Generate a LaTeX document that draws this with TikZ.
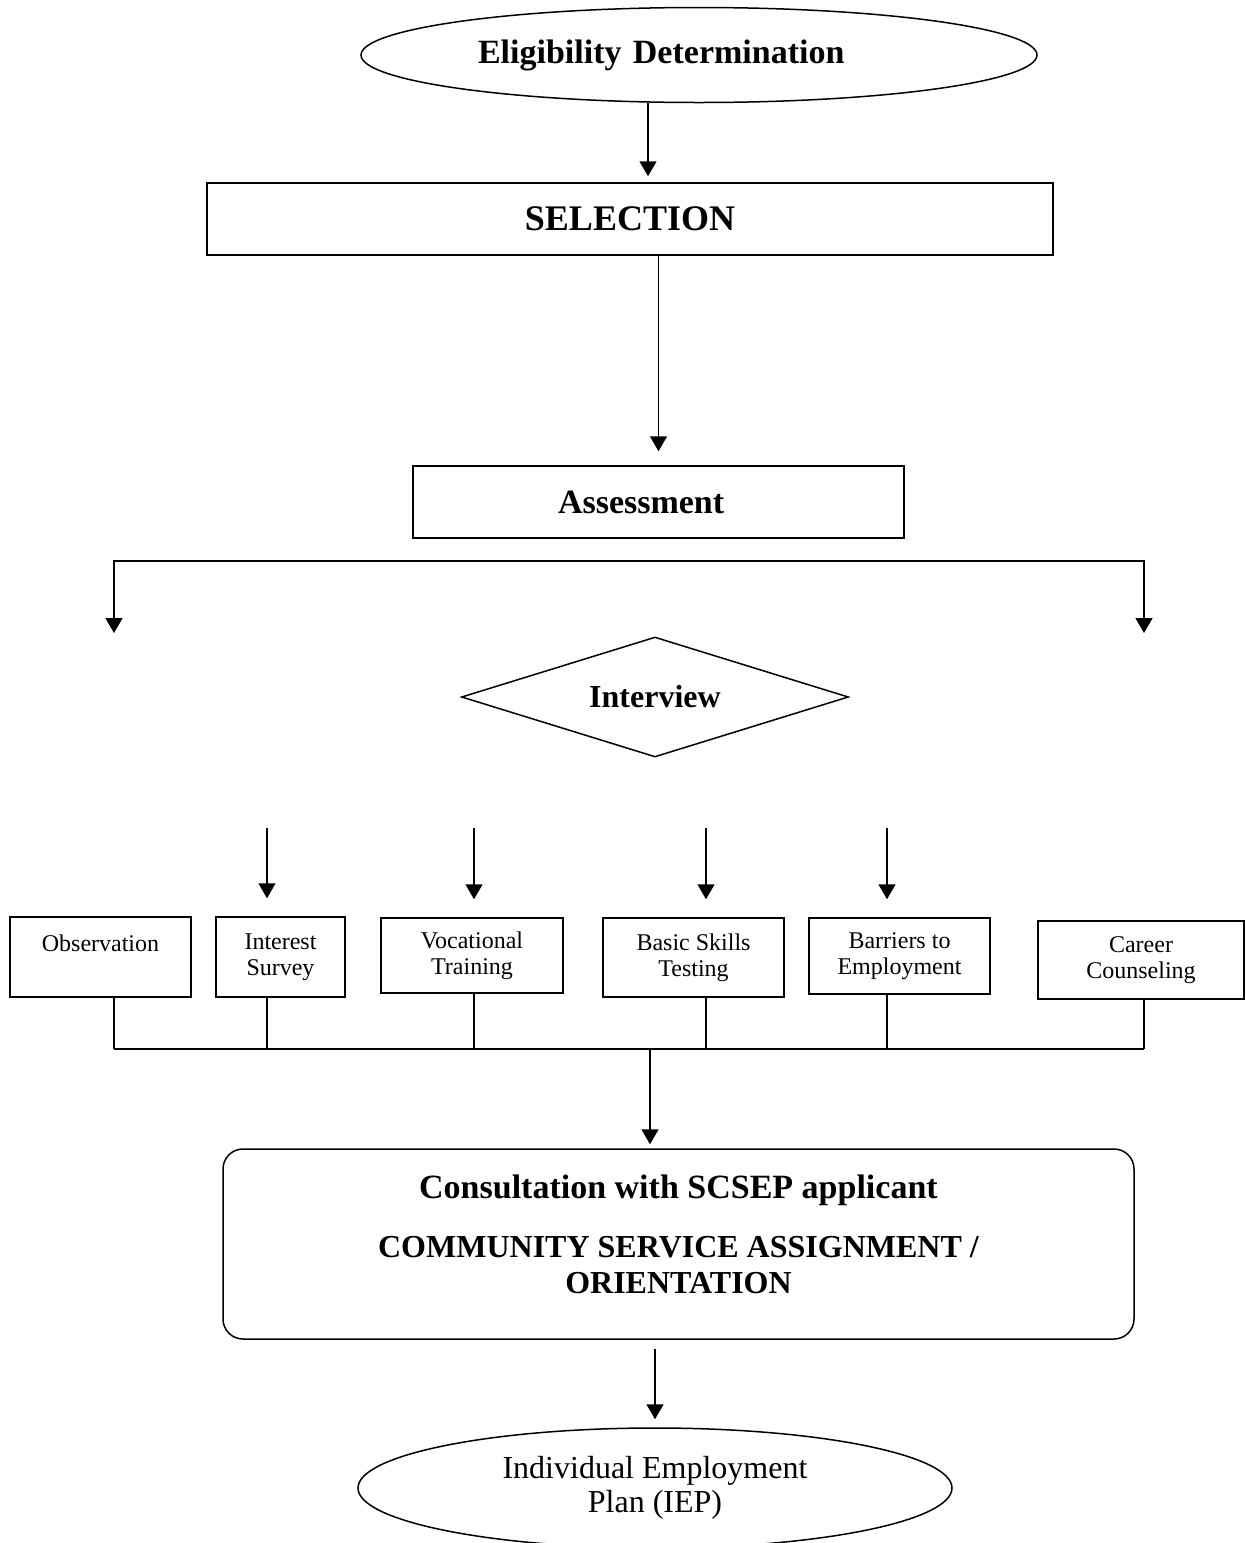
\documentclass[tikz,border=0pt]{standalone}
\usepackage{fontspec}
\setmainfont{Liberation Serif}
\usetikzlibrary{shapes.geometric,arrows.meta}

\begin{document}
\begin{tikzpicture}[x=0.5pt,y=-0.5pt,line width=0.75pt,
  arr/.style={-{Triangle[width=8.5pt,length=7.5pt]}},
  arrs/.style={{Triangle[width=8.5pt,length=7.5pt]}-{Triangle[width=8.5pt,length=7.5pt]}},
  box/.style={draw,rectangle,inner sep=0pt,align=center},
  smallbox/.style={box,font=\fontsize{12}{13}\selectfont,minimum height=40pt},
  big/.style={font=\bfseries\fontsize{17}{20}\selectfont}]

  \useasboundingbox (0,0) rectangle (1246,1543);

  \newcommand\busY{1049}
  \newcommand\inY{828}
  \newcommand\brY{561}

  %% main column
  \node[draw,ellipse,minimum width=338pt,minimum height=47.5pt,inner sep=2pt,
        text width=221pt,align=left,big] (elig) at (699,55) {Eligibility Determination};
  \node[box,minimum width=423pt,minimum height=36pt,
        font=\bfseries\fontsize{18}{20}\selectfont] (sel) at (630,219) {SELECTION};
  \node[box,minimum width=245.5pt,minimum height=36pt,
        text width=100.5pt,align=left,big] (assess) at (658.5,502) {Assessment};
  \node[draw,diamond,aspect=3.2,minimum width=193.5pt,minimum height=60pt,inner sep=0pt,
        font=\bfseries\fontsize{16}{18}\selectfont] (interview) at (655,697) {Interview};

  %% assessment tools
  \node[smallbox,minimum width=90.5pt,text height=9pt,text depth=15pt] (obs) at (100.5,957) {Observation};
  \node[smallbox,minimum width=64.5pt] (intr) at (280.5,957) {Interest\\Survey};
  \node[smallbox,minimum width=91pt,minimum height=37.5pt] (voc) at (472,955.5) {Vocational\\Training};
  \node[smallbox,minimum width=90.5pt,minimum height=39.5pt] (basic) at (693.5,957.5) {Basic Skills\\Testing};
  \node[smallbox,minimum width=90.5pt,minimum height=38pt] (barr) at (899.5,956) {Barriers to\\Employment};
  \node[smallbox,minimum width=103pt,minimum height=39pt] (career) at (1141,960) {Career\\Counseling};

  \node[draw,rounded corners=10pt,minimum width=455.5pt,minimum height=95pt,inner sep=0pt,
        align=center,text depth=10pt,
        font=\bfseries\fontsize{16}{18}\selectfont] (consult) at (678.5,1244)
        {{\fontsize{17}{18}\selectfont Consultation with SCSEP applicant}\\[11.5pt]COMMUNITY SERVICE ASSIGNMENT /\\ORIENTATION};
  \node[draw,ellipse,minimum width=297pt,minimum height=60pt,inner sep=0pt,align=center,
        font=\fontsize{16}{17}\selectfont] (iep) at (655,1488) {Individual Employment\\Plan (IEP)};

  %% arrows down the column
  \draw[arr,shorten >=3pt] ([xshift=9pt]sel.north |- elig.south) -- ([xshift=9pt]sel.north); %% elig - sel
  \draw[arr,shorten >=7pt] (sel.south -| assess.north) -- (assess.north); %% sel - assess

  %% split
  \coordinate (brl) at (114,\brY);
  \coordinate (brr) at (1144,\brY);
  \draw[arrs] ([yshift=-36pt]brl) -- (brl) -- (brr) -- ([yshift=-36pt]brr);

  \foreach \b/\x in {intr/267,voc/474,basic/706,barr/887}{
    \coordinate (\b-in) at (\x,\inY);
    \draw[arr,shorten >=9pt] (\b-in) -- (\b-in |- \b.north);
  }

  %% join
  \foreach \b/\x in {obs/114,intr/267,voc/474,basic/706,barr/887,career/1144}{
    \coordinate (\b-out) at (\x,\busY);
    \draw (\b-out |- \b.south) -- (\b-out);
  }
  \draw (obs-out) -- (career-out); %% bus

  \coordinate (busmid) at (650,\busY);
  \draw[arr,shorten >=2pt] (busmid) -- (busmid |- consult.north); %% bus - consult
  \draw[arr,shorten <=4.5pt,shorten >=4pt] (consult.south -| iep.north) -- (iep.north); %% consult - iep

\end{tikzpicture}
\end{document}
